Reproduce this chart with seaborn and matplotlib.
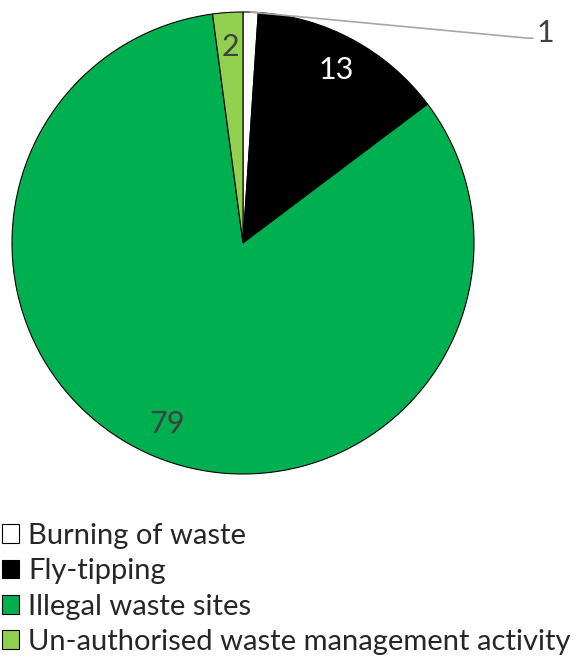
import numpy as np
import matplotlib
matplotlib.use('Agg')
import matplotlib.pyplot as plt
import seaborn as sns

categories = ['Burning of waste', 'Fly-tipping', 'Illegal waste sites',
              'Un-authorised waste management activity']
values = [1, 13, 79, 2]
colors = ['#FFFFFF', '#000000', '#00B050', '#92D050']
label_colors = ['#404040', 'white', '#404040', '#404040']

sns.set_theme(style='white')
plt.rcParams['font.family'] = ['Lato', 'DejaVu Sans']

fig = plt.figure(figsize=(5.82, 6.57), dpi=100)
ax = fig.add_axes([12/582, 1 - 474/657, 462/582, 462/657])
wedges, _ = ax.pie(values, colors=colors, startangle=90, counterclock=False,
                   wedgeprops=dict(edgecolor='black', linewidth=0.8))
ax.set_xlim(-1, 1)
ax.set_ylim(-1, 1)
ax.set_aspect('equal')

# value labels inside slices, the tiny one gets a leader line
for w, v, c in zip(wedges, values, label_colors):
    mid = np.deg2rad((w.theta1 + w.theta2) / 2)
    x, y = np.cos(mid), np.sin(mid)
    if v < 2:
        ax.plot([x, 1.23, 1.255], [y, 0.887, 0.887], color='#a6a6a6',
                lw=1.2, clip_on=False)
        ax.text(1.27, 0.91, str(v), fontsize=22, color=c, ha='left', va='center')
    else:
        ax.text(0.85 * x, 0.85 * y, str(v), fontsize=22, color=c,
                ha='center', va='center')

fig.legend(wedges, categories, loc='upper left', bbox_to_anchor=(0.003, 1 - 523/657),
           frameon=False, fontsize=21, handlelength=0.6, handleheight=0.6,
           handletextpad=0.3, labelspacing=0.32, borderpad=0, borderaxespad=0)

fig.savefig('out.png', dpi=100)
